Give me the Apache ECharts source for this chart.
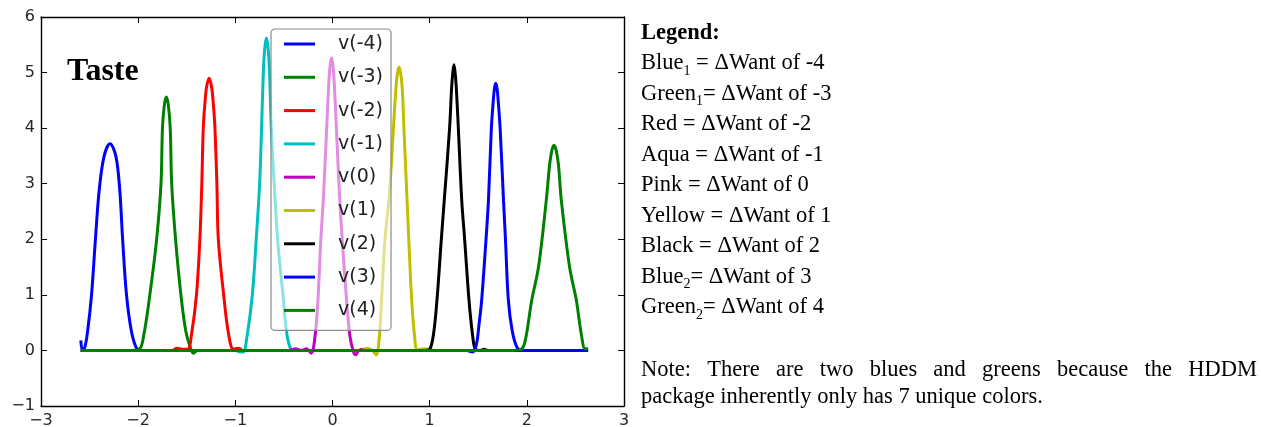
<!DOCTYPE html>
<html><head><meta charset="utf-8">
<script src="https://cdn.jsdelivr.net/npm/echarts@6/dist/echarts.min.js"></script>
<style>html,body{margin:0;padding:0;background:#fff}#c{width:1261px;height:427px}</style>
</head><body><div id="c"></div>
<script>
// ---------- data ----------
const seriesNames = ['v(-4)','v(-3)','v(-2)','v(-1)','v(0)','v(1)','v(2)','v(3)','v(4)'];
const seriesColors = ['#0000ff','#008000','#ff0000','#00bfbf','#bf00bf','#bfbf00','#000000','#0000ff','#008000'];
const xTickValues = [-3,-2,-1,0,1,2,3];
const yTickValues = [-1,0,1,2,3,4,5,6];

const vM4 = [[-2.59,0.18],[-2.575,0.02],[-2.55,0.05],[-2.52,0.35],[-2.48,1.0],[-2.44,2.0],[-2.40,2.9],[-2.35,3.5],[-2.29,3.72],[-2.23,3.5],[-2.19,2.9],[-2.16,2.0],[-2.12,1.0],[-2.07,0.35],[-2.02,0.05],[-1.98,0],[2.63,0]];
const vM3 = [[-2.59,0],[-2.1,0],[-1.99,0.02],[-1.94,0.3],[-1.88,1.0],[-1.81,2.0],[-1.765,3.0],[-1.75,4.0],[-1.73,4.42],[-1.71,4.56],[-1.69,4.42],[-1.67,4.0],[-1.655,3.0],[-1.615,2.0],[-1.56,1.0],[-1.51,0.35],[-1.46,0.04],[-1.43,-0.05],[-1.39,0],[2.63,0]];
const vM2 = [[-2.59,0],[-1.65,0],[-1.6,0.04],[-1.55,0.02],[-1.49,0.02],[-1.45,0.3],[-1.40,1.0],[-1.365,2.0],[-1.345,3.0],[-1.33,4.0],[-1.313,4.45],[-1.295,4.75],[-1.27,4.90],[-1.245,4.75],[-1.227,4.45],[-1.21,4.0],[-1.19,3.0],[-1.175,2.0],[-1.12,1.0],[-1.07,0.3],[-1.02,0.02],[-0.97,0.04],[-0.92,0],[2.63,0]];
const vM1 = [[-2.59,0],[-1.0,0],[-0.95,-0.03],[-0.92,-0.03],[-0.88,0.25],[-0.825,1.0],[-0.785,2.0],[-0.75,3.0],[-0.73,4.0],[-0.712,5.0],[-0.698,5.42],[-0.68,5.62],[-0.662,5.42],[-0.648,5.0],[-0.63,4.0],[-0.60,3.0],[-0.565,2.0],[-0.51,1.0],[-0.47,0.3],[-0.43,0.03],[-0.38,0],[2.63,0]];
const v0 = [[-2.59,0],[-0.45,0],[-0.38,0.03],[-0.32,0.0],[-0.27,0.03],[-0.22,-0.05],[-0.18,0.25],[-0.15,0.9],[-0.12,2.0],[-0.095,2.7],[-0.06,4.0],[-0.04,4.75],[-0.025,5.12],[-0.01,5.26],[0.005,5.12],[0.02,4.75],[0.04,4.0],[0.075,2.7],[0.10,2.0],[0.145,0.9],[0.18,0.25],[0.215,-0.02],[0.24,-0.08],[0.27,0],[0.33,0.02],[0.4,0],[2.63,0]];
const v1 = [[-2.59,0],[0.3,0],[0.36,0.04],[0.41,0.0],[0.45,-0.08],[0.48,0.2],[0.505,0.9],[0.54,2.0],[0.585,2.8],[0.627,4.0],[0.65,4.65],[0.667,4.97],[0.685,5.10],[0.703,4.97],[0.72,4.65],[0.735,4.0],[0.765,2.8],[0.785,2.0],[0.815,0.9],[0.845,0.25],[0.875,0.01],[0.95,0.03],[1.05,0],[2.63,0]];
const v2 = [[-2.59,0],[0.95,0],[1.0,0.02],[1.04,0.3],[1.075,0.9],[1.12,2.0],[1.15,2.7],[1.205,4.0],[1.225,4.7],[1.238,5.0],[1.25,5.14],[1.262,5.0],[1.275,4.7],[1.295,4.0],[1.33,2.7],[1.36,2.0],[1.405,0.9],[1.44,0.3],[1.47,0.02],[1.52,0.0],[1.56,0.02],[1.6,0],[2.63,0]];
const v3 = [[-2.59,0],[1.38,0],[1.44,-0.03],[1.48,0.1],[1.51,0.5],[1.535,0.9],[1.58,2.0],[1.605,2.7],[1.635,4.0],[1.655,4.5],[1.667,4.72],[1.68,4.81],[1.693,4.72],[1.705,4.5],[1.725,4.0],[1.76,2.7],[1.78,2.0],[1.81,0.9],[1.85,0.35],[1.9,0.05],[1.95,0],[2.63,0]];
const v4 = [[-2.59,0],[1.85,0],[1.93,0.01],[1.98,0.15],[2.05,0.9],[2.12,1.5],[2.2,2.7],[2.235,3.35],[2.258,3.6],[2.28,3.69],[2.302,3.6],[2.325,3.35],[2.355,2.7],[2.44,1.5],[2.51,0.9],[2.56,0.3],[2.6,0.03],[2.63,0.03]];
const seriesData = [vM4, vM3, vM2, vM1, v0, v1, v2, v3, v4];

const chartLabel = 'Taste';
const keyTitle = 'Legend:';
const keyNames = ['Blue','Green','Red','Aqua','Pink','Yellow','Black','Blue','Green'];
const keySubs  = ['1','1','','','','','','2','2'];
const keyRest  = [' = \u0394Want of -4','= \u0394Want of -3',' = \u0394Want of -2',' = \u0394Want of -1',' = \u0394Want of 0',' = \u0394Want of 1',' = \u0394Want of 2','= \u0394Want of 3','= \u0394Want of 4'];
const noteLines = ['Note: There are two blues and greens because the HDDM','package inherently only has 7 unique colors.'];

// ---------- build ----------
const minus = v => String(v).replace('-', '\u2212');
const serifFont = '"Liberation Serif", "Times New Roman", serif';
const cvs = document.createElement('canvas').getContext('2d');
function tw(text, size, weight) {
  cvs.font = (weight || 'normal') + ' ' + size + 'px ' + serifFont;
  return cvs.measureText(text).width;
}

const graphics = [];
graphics.push({type:'text', x:67, y:72, z:10, style:{text:chartLabel, fontSize:32, fontWeight:'bold', fontFamily:serifFont, fill:'#000', verticalAlign:'middle', align:'left'}});

const TX = 641, FS = 22.5, SUBFS = 14;
graphics.push({type:'text', x:TX, y:33, style:{text:keyTitle, fontSize:FS, fontWeight:'bold', fontFamily:serifFont, fill:'#000', verticalAlign:'middle'}});
for (let i = 0; i < keyNames.length; i++) {
  const y = 63.5 + 30.5 * i;
  let x = TX;
  graphics.push({type:'text', x:x, y:y, style:{text:keyNames[i], fontSize:FS, fontFamily:serifFont, fill:'#000', verticalAlign:'middle'}});
  x += tw(keyNames[i], FS);
  if (keySubs[i]) {
    graphics.push({type:'text', x:x, y:y + 7.5, style:{text:keySubs[i], fontSize:SUBFS, fontFamily:serifFont, fill:'#000', verticalAlign:'middle'}});
    x += tw(keySubs[i], SUBFS);
  }
  graphics.push({type:'text', x:x, y:y, style:{text:keyRest[i], fontSize:FS, fontFamily:serifFont, fill:'#000', verticalAlign:'middle'}});
}
// justified first note line
(function(){
  const words = noteLines[0].split(' ');
  const widths = words.map(w => tw(w, FS));
  const total = widths.reduce((a,b)=>a+b,0);
  const gap = (1257 - TX - total) / (words.length - 1);
  let x = TX;
  words.forEach((w,k) => {
    graphics.push({type:'text', x:x, y:370, style:{text:w, fontSize:FS, fontFamily:serifFont, fill:'#000', verticalAlign:'middle'}});
    x += widths[k] + gap;
  });
})();
graphics.push({type:'text', x:TX, y:397, style:{text:noteLines[1], fontSize:FS, fontFamily:serifFont, fill:'#000', verticalAlign:'middle'}});

function axisCommon(showLabel) {
  return {
    type:'value',
    axisLine:{show:true, onZero:false, lineStyle:{color:'#000', width:1.4}},
    axisTick:{show:true, inside:true, length:6, lineStyle:{color:'#000', width:1}},
    splitLine:{show:false},
    axisLabel:{show:showLabel, color:'#262626', fontSize:16, fontFamily:'DejaVu Sans', formatter:minus}
  };
}
const xBottom = Object.assign(axisCommon(true), {position:'bottom', min:xTickValues[0], max:xTickValues[xTickValues.length-1], interval:1});
xBottom.axisLabel.margin = 7;
const xTop = Object.assign(axisCommon(false), {position:'top', min:xTickValues[0], max:xTickValues[xTickValues.length-1], interval:1});
const yLeft = Object.assign(axisCommon(true), {position:'left', min:yTickValues[0], max:yTickValues[yTickValues.length-1], interval:1});
yLeft.axisLabel.margin = 6;
const yRight = Object.assign(axisCommon(false), {position:'right', min:yTickValues[0], max:yTickValues[yTickValues.length-1], interval:1});

const chart = echarts.init(document.getElementById('c'), null, {renderer:'canvas'});
chart.setOption({
  animation:false,
  backgroundColor:'#fff',
  grid:{left:41, right:637, top:17, bottom:21, containLabel:false, outerBoundsMode:'none'},
  xAxis:[xBottom, xTop],
  yAxis:[yLeft, yRight],
  legend:{
    data:seriesNames, orient:'vertical', left:271, top:29,
    padding:[5,8,10,13], itemGap:13.3, itemWidth:31, itemHeight:3, icon:'rect',
    selectedMode:false,
    backgroundColor:'rgba(255,255,255,0.55)', borderColor:'#8c8c8c', borderWidth:1.2, borderRadius:4,
    textStyle:{fontFamily:'DejaVu Sans', fontSize:19, color:'#222', lineHeight:20, padding:[0,0,0,18]}
  },
  graphic:graphics,
  series: seriesNames.map((n,i) => ({
    name:n, type:'line', xAxisIndex:0, yAxisIndex:0,
    data:seriesData[i], showSymbol:false, symbol:'none',
    smooth:0.35, lineStyle:{color:seriesColors[i], width:3},
    itemStyle:{color:seriesColors[i]}
  }))
});
</script></body></html>
